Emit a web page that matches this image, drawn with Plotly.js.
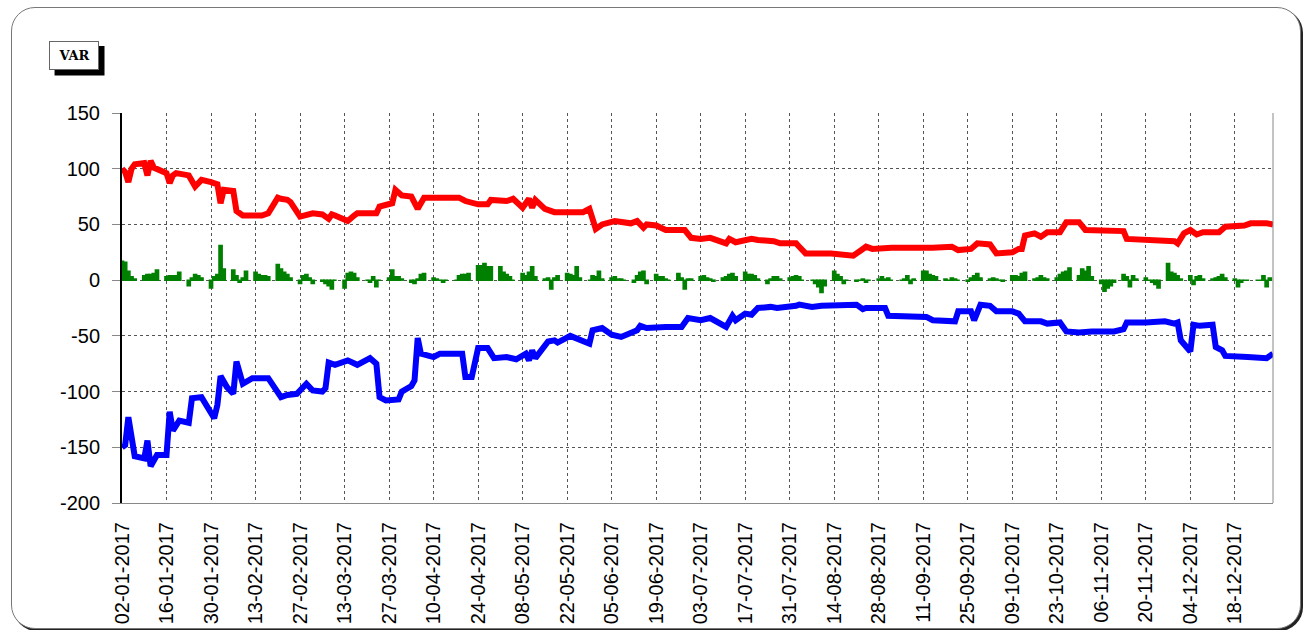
<!DOCTYPE html>
<html>
<head>
<meta charset="utf-8">
<script src="https://cdn.plot.ly/plotly-3.0.1.min.js"></script>
<style>
  html, body { margin: 0; padding: 0; background: #ffffff; }
  #wrap { position: relative; width: 1306px; height: 630px; overflow: hidden; }
  #frame { position: absolute; left: 11px; top: 7px; width: 1288px; height: 620px;
           border: 1px solid #777; border-radius: 24px; box-shadow: 2px 2px 0 #222; background: #fff; }
  #chart { position: absolute; left: 0; top: 0; width: 1306px; height: 630px; }
</style>
</head>
<body>
<div id="wrap">
  <div id="frame"></div>
  <div id="chart"></div>
</div>
<script>
// ---- Data ----
const seriesName = "VAR";

// Upper VaR (red)
const redDates = ["2017-01-02","2017-01-03","2017-01-04","2017-01-05","2017-01-06","2017-01-09","2017-01-10","2017-01-11","2017-01-12","2017-01-13",
"2017-01-16","2017-01-17","2017-01-18","2017-01-19","2017-01-23","2017-01-25","2017-01-27","2017-01-30","2017-02-01","2017-02-02",
"2017-02-03","2017-02-06","2017-02-07","2017-02-09","2017-02-15","2017-02-17","2017-02-20","2017-02-21","2017-02-23","2017-02-24",
"2017-02-27","2017-03-03","2017-03-06","2017-03-08","2017-03-09","2017-03-10","2017-03-14","2017-03-16","2017-03-17","2017-03-23",
"2017-03-24","2017-03-28","2017-03-29","2017-03-31","2017-04-03","2017-04-05","2017-04-07","2017-04-18","2017-04-20","2017-04-24",
"2017-04-27","2017-04-28","2017-05-03","2017-05-05","2017-05-08","2017-05-10","2017-05-11","2017-05-12","2017-05-15","2017-05-18",
"2017-05-25","2017-05-27","2017-05-29","2017-05-31","2017-06-02","2017-06-06","2017-06-11","2017-06-13","2017-06-15","2017-06-16",
"2017-06-19","2017-06-22","2017-06-28","2017-06-30","2017-07-03","2017-07-06","2017-07-11","2017-07-12","2017-07-14","2017-07-18",
"2017-07-19","2017-07-21","2017-07-26","2017-07-28","2017-08-02","2017-08-03","2017-08-05","2017-08-13","2017-08-20","2017-08-22",
"2017-08-24","2017-08-26","2017-09-01","2017-09-14","2017-09-20","2017-09-22","2017-09-26","2017-09-28","2017-10-01","2017-10-02",
"2017-10-04","2017-10-09","2017-10-11","2017-10-12","2017-10-13","2017-10-16","2017-10-18","2017-10-20","2017-10-24","2017-10-26",
"2017-10-30","2017-11-01","2017-11-13","2017-11-14","2017-11-29","2017-11-30","2017-12-02","2017-12-04","2017-12-06","2017-12-08",
"2017-12-13","2017-12-15","2017-12-21","2017-12-23","2017-12-28","2017-12-30"];
const redValues = [100,97,88,100,104,105,94,107,101,100,
96,87,94,96,94,84,90,88,86,69,
81,80,62,58,58,60,74,73,72,70,
57,60,59,55,59,58,53,58,60,60,
66,69,81,76,75,64,74,74,71,68,
68,72,71,73,65,73,65,72,64,61,
60,61,64,46,50,53,51,53,47,50,
49,45,45,38,37,38,33,37,34,36,
37,36,35,33,33,30,24,24,22,26,
30,28,29,29,30,27,28,33,33,32,
24,25,28,28,40,42,39,43,43,52,
52,45,44,37,35,33,42,45,41,43,
43,48,49,51,51,50];

// Lower VaR (blue)
const blueDates = ["2017-01-02","2017-01-03","2017-01-04","2017-01-06","2017-01-09","2017-01-10","2017-01-11","2017-01-13","2017-01-16","2017-01-17",
"2017-01-18","2017-01-20","2017-01-23","2017-01-24","2017-01-27","2017-01-31","2017-02-01","2017-02-02","2017-02-04","2017-02-06",
"2017-02-07","2017-02-09","2017-02-12","2017-02-17","2017-02-21","2017-02-23","2017-02-26","2017-03-01","2017-03-03","2017-03-06",
"2017-03-07","2017-03-08","2017-03-10","2017-03-14","2017-03-17","2017-03-21","2017-03-23","2017-03-24","2017-03-26","2017-03-30",
"2017-03-31","2017-04-03","2017-04-04","2017-04-05","2017-04-06","2017-04-10","2017-04-12","2017-04-19","2017-04-20","2017-04-22",
"2017-04-24","2017-04-27","2017-04-29","2017-05-03","2017-05-06","2017-05-09","2017-05-10","2017-05-11","2017-05-12","2017-05-16",
"2017-05-18","2017-05-19","2017-05-23","2017-05-29","2017-05-30","2017-06-02","2017-06-05","2017-06-08","2017-06-13","2017-06-14",
"2017-06-16","2017-06-20","2017-06-22","2017-06-27","2017-06-29","2017-07-03","2017-07-06","2017-07-11","2017-07-13","2017-07-14",
"2017-07-17","2017-07-19","2017-07-21","2017-07-25","2017-07-27","2017-08-02","2017-08-03","2017-08-07","2017-08-10","2017-08-21",
"2017-08-23","2017-08-24","2017-08-30","2017-08-31","2017-09-12","2017-09-14","2017-09-21","2017-09-22","2017-09-26","2017-09-27",
"2017-09-29","2017-10-02","2017-10-04","2017-10-09","2017-10-11","2017-10-13","2017-10-18","2017-10-20","2017-10-24","2017-10-26",
"2017-10-30","2017-11-03","2017-11-10","2017-11-13","2017-11-14","2017-11-20","2017-11-26","2017-11-29","2017-11-30","2017-12-01",
"2017-12-04","2017-12-05","2017-12-07","2017-12-11","2017-12-12","2017-12-14","2017-12-15","2017-12-22","2017-12-28","2017-12-30"];
const blueValues = [-150,-148,-123,-158,-160,-144,-167,-157,-157,-118,
-135,-126,-128,-106,-105,-124,-112,-86,-96,-102,
-73,-93,-88,-88,-105,-103,-102,-93,-99,-100,
-97,-74,-76,-72,-76,-70,-75,-105,-108,-107,
-100,-95,-90,-52,-66,-69,-66,-66,-87,-87,
-61,-61,-70,-69,-71,-66,-72,-63,-70,-55,
-54,-56,-50,-57,-45,-43,-49,-51,-45,-41,
-43,-42,-42,-42,-34,-36,-34,-42,-32,-36,
-30,-31,-25,-24,-25,-23,-22,-24,-23,-22,
-26,-25,-25,-32,-33,-36,-37,-28,-28,-36,
-22,-23,-28,-28,-30,-37,-37,-39,-38,-46,
-47,-46,-46,-44,-38,-38,-37,-39,-38,-54,
-64,-40,-41,-40,-60,-63,-68,-69,-70,-66];

// Daily P&L (green bars), one row of five weekdays per week, weeks starting 2017-01-02
const greenWeekly = [
 [17,16,8,3,1],[4,5,5,6,9],[3,4,4,4,7],[-5,2,5,4,2],[-7,3,5,31,10],
 [9,4,-2,2,8],[7,5,4,4,3],[14,10,7,5,2],[-3,4,5,2,-3],[-1,-3,-5,-8,0],
 [-7,6,7,6,2],[0,-2,3,-6,0],[2,9,3,3,1],[-2,-3,1,5,6],[2,1,0,-2,0],
 [0,4,5,5,6],[13,13,15,12,12],[12,7,5,3,0],[6,4,7,12,3],[1,2,-8,2,4],
 [6,5,4,12,2],[0,4,3,8,1],[2,3,1,1,0],[-2,4,7,8,-3],[5,3,3,1,0],
 [6,2,-8,1,1],[3,4,2,1,-1],[2,3,5,6,3],[7,5,5,4,1],[-3,1,3,3,1],
 [2,3,4,3,0],[0,-3,-6,-11,-5],[8,5,3,-3,0],[-1,0,1,-2,0],[1,3,1,2,0],
 [0,1,4,-3,1],[8,8,5,4,3],[1,0,2,1,0],[-1,2,4,6,2],[1,2,1,0,-1],
 [4,4,3,6,7],[1,2,4,2,1],[2,5,7,8,11],[4,10,8,12,3],[-3,-10,-7,-5,-2],
 [5,3,-6,4,1],[2,0,-2,-4,-7],[15,7,6,4,1],[4,-4,3,4,1],[1,2,3,5,2],
 [1,-6,-2,0,0],[0,0,4,-6,2]
];

// weekday category dates for the green bars
const greenDates = [];
const greenValues = [];
for (let w = 0; w < greenWeekly.length; w++) {
  for (let j = 0; j < 5; j++) {
    const dt = new Date(Date.UTC(2017, 0, 2 + 7 * w + j));
    greenDates.push(dt.toISOString().slice(0, 10));
    greenValues.push(greenWeekly[w][j]);
  }
}

const xRange = ["2017-01-02", "2017-12-30"];
const yTicks = [-200, -150, -100, -50, 0, 50, 100, 150];
const yTickText = ["-200", "-150", "-100", "-50", "0", "50", "100", "150"];

const DAY = 86400000;

const traces = [
  {
    type: "bar", x: greenDates, y: greenValues, width: DAY,
    marker: { color: "#008000", line: { color: "#008000", width: 1.5 } },
    hoverinfo: "x+y", showlegend: false
  },
  {
    type: "scatter", mode: "lines", x: redDates, y: redValues,
    line: { color: "#ff0000", width: 6 }, showlegend: false
  },
  {
    type: "scatter", mode: "lines", x: blueDates, y: blueValues,
    line: { color: "#0000ff", width: 6 }, showlegend: false
  }
];

const layout = {
  width: 1306, height: 630,
  margin: { l: 122, r: 33, t: 113, b: 127, pad: 0 },
  paper_bgcolor: "rgba(0,0,0,0)",
  plot_bgcolor: "rgba(0,0,0,0)",
  showlegend: false,
  font: { family: "Liberation Sans, Arial, sans-serif", color: "#000", size: 20 },
  xaxis: {
    type: "date", range: xRange,
    tick0: "2017-01-02", dtick: 14 * DAY,
    tickformat: "%d-%m-%Y", tickangle: -90,
    tickfont: { size: 20, color: "#000" },
    ticks: "", ticklabelstandoff: 10,
    showgrid: true, gridcolor: "#555", griddash: "dot", gridwidth: 1,
    showline: true, linecolor: "#888", linewidth: 1,
    zeroline: false, fixedrange: true
  },
  yaxis: {
    range: [-200, 150], tickvals: yTicks, ticktext: yTickText,
    tickfont: { size: 20, color: "#000" },
    ticks: "outside", ticklen: 8, tickcolor: "#888", tickwidth: 1,
    ticklabelstandoff: 8,
    showgrid: true, gridcolor: "#555", griddash: "dot", gridwidth: 1,
    showline: true, linecolor: "#000", linewidth: 2,
    zeroline: false, fixedrange: true
  },
  barmode: "overlay",
  shapes: [
    { type: "line", xref: "paper", yref: "paper", x0: 1, x1: 1, y0: 0, y1: 1,
      line: { color: "#888", width: 1 } },
    { type: "rect", xref: "paper", yref: "paper", x0: -0.0586, x1: -0.0152, y0: 1.0962, y1: 1.1718,
      fillcolor: "#000", line: { width: 0 } }
  ],
  annotations: [
    { text: "<b>" + seriesName + "</b>", xref: "paper", yref: "paper",
      x: -0.0415, y: 1.1487, xanchor: "center", yanchor: "middle",
      showarrow: false, width: 38, height: 17, borderpad: 5,
      bordercolor: "#666", borderwidth: 1, bgcolor: "#fff",
      font: { family: "'DejaVu Serif', serif", size: 13, color: "#000" } }
  ]
};

Plotly.newPlot("chart", traces, layout, { displayModeBar: false, staticPlot: true });
</script>
</body>
</html>
